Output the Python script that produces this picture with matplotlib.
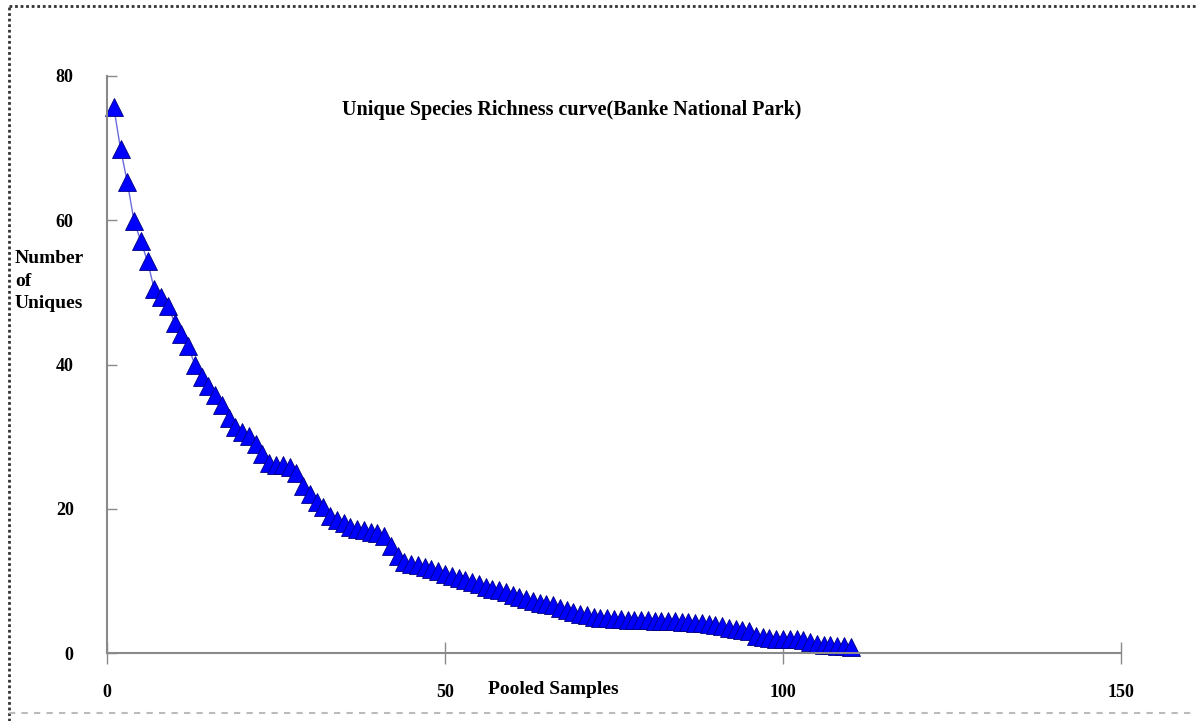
import matplotlib.pyplot as plt
from matplotlib.lines import Line2D

# data: unique species per pooled sample
samples = list(range(1, 111))
uniques = [75.7, 69.9, 65.3, 59.9, 57.1, 54.3, 50.4, 49.3, 48.1, 45.8,
           44.2, 42.5, 40.0, 38.3, 37.0, 35.8, 34.4, 32.6, 31.4, 30.6,
           30.1, 29.0, 27.6, 26.3, 26.1, 26.0, 25.8, 25.0, 23.2, 22.0,
           21.0, 20.3, 19.0, 18.4, 18.0, 17.5, 17.2, 17.0, 16.8, 16.7,
           16.2, 14.8, 13.4, 12.6, 12.4, 12.2, 11.9, 11.6, 11.3, 11.0,
           10.7, 10.4, 10.1, 9.8, 9.5, 9.2, 8.9, 8.7, 8.4, 8.0,
           7.8, 7.5, 7.2, 7.0, 6.8, 6.6, 6.3, 6.0, 5.7, 5.4,
           5.2, 5.0, 4.9, 4.8, 4.7, 4.7, 4.6, 4.6, 4.6, 4.6,
           4.5, 4.5, 4.4, 4.4, 4.3, 4.3, 4.2, 4.1, 4.0, 3.9,
           3.7, 3.5, 3.3, 3.2, 3.0, 2.4, 2.2, 2.1, 2.0, 2.0,
           1.9, 1.9, 1.8, 1.5, 1.2, 1.1, 1.1, 1.0, 1.0, 0.9]
x_ticks = [0, 50, 100, 150]
y_ticks = [0, 20, 40, 60, 80]

serif = ['Liberation Serif', 'DejaVu Serif']

fig = plt.figure(figsize=(11.96, 7.21), dpi=100)
ax = fig.add_axes([107 / 1196, 68 / 721, 1014 / 1196, 577 / 721])

ax.plot(samples, uniques, color='#6a6ae0', lw=1, marker='^', markersize=13.5,
        markerfacecolor='#0000ff', markeredgecolor='#000080', markeredgewidth=0.6,
        clip_on=False)

ax.set_xlim(0, 150)
ax.set_ylim(0, 80)
ax.set_xticks(x_ticks)
ax.set_yticks(y_ticks)

for side in ['top', 'right']:
    ax.spines[side].set_visible(False)
for side in ['left', 'bottom']:
    ax.spines[side].set_color('#8a8a8a')
    ax.spines[side].set_linewidth(1.5)

ax.tick_params(axis='y', direction='in', length=7, width=1, color='#8a8a8a', pad=24)
ax.tick_params(axis='x', direction='inout', length=16, width=1, color='#8a8a8a', pad=14)
for lab in ax.get_yticklabels() + ax.get_xticklabels():
    lab.set_fontfamily(serif)
    lab.set_fontweight('bold')
    lab.set_fontsize(13)

# title and axis labels
fig.text(572 / 1196, 1 - 110 / 721, 'Unique Species Richness curve(Banke National Park)',
         ha='center', va='center', fontsize=14.5, fontweight='bold', family=serif)
fig.text(553 / 1196, 1 - 690 / 721, 'Pooled Samples',
         ha='center', va='center', fontsize=14, fontweight='bold', family=serif)
fig.text(15 / 1196, 1 - 281 / 721, 'Number\nof\nUniques',
         ha='left', va='center', fontsize=14, fontweight='bold', family=serif,
         linespacing=1.4)

# frame round the picture
fig.add_artist(Line2D([9 / 1196, 1], [1 - 6 / 721, 1 - 6 / 721], transform=fig.transFigure,
                      color='#333333', lw=2, ls=(0, (1, 1))))
fig.add_artist(Line2D([9 / 1196, 9 / 1196], [0, 1 - 6 / 721], transform=fig.transFigure,
                      color='#333333', lw=2, ls=(0, (1, 1))))
fig.add_artist(Line2D([9 / 1196, 1], [1 - 713 / 721, 1 - 713 / 721], transform=fig.transFigure,
                      color='#bbbbbb', lw=1.5, ls=(0, (3, 3))))

fig.savefig('out.png', dpi=100)
